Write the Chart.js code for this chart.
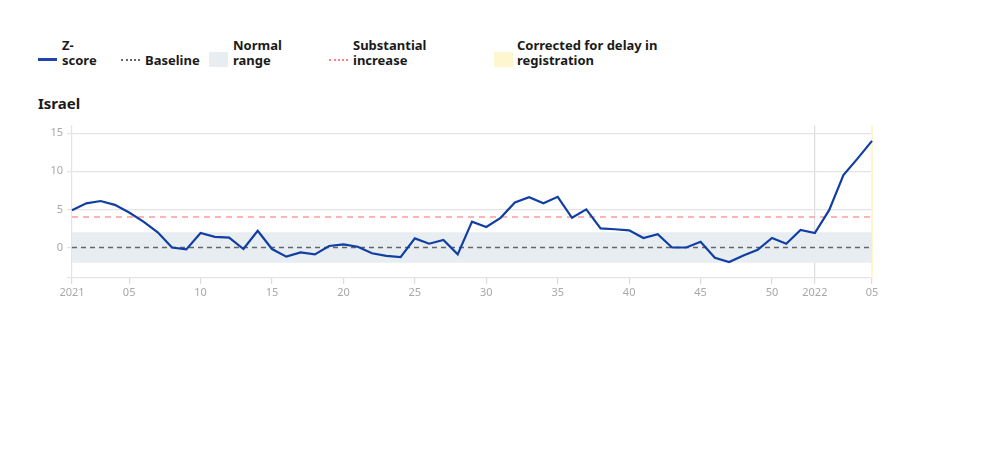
<!DOCTYPE html>
<html>
<head>
<meta charset="utf-8">
<script src="https://cdn.jsdelivr.net/npm/chart.js@4"></script>
<style>
  html, body { margin: 0; padding: 0; background: #fff; }
  body { width: 1004px; height: 456px; position: relative; overflow: hidden; font-family: "Noto Sans", sans-serif; color: #1a1a1a; }
  .lg { position: absolute; font-weight: 700; font-size: 13px; line-height: 15px; }
  .sw { position: absolute; }
  #title { position: absolute; left: 38px; top: 93px; font-weight: 700; font-size: 15px; }
  #wrap { position: absolute; left: 0; top: 115px; width: 1004px; height: 193px; }
</style>
</head>
<body>
<div class="sw" style="left:38px;top:58px;width:19px;height:0;border-top:3px solid #1f44b0;"></div>
<div class="lg" style="left:62px;top:38px;">Z-<br>score</div>
<div class="sw" style="left:121px;top:59px;width:19px;height:0;border-top:2px dotted #666;"></div>
<div class="lg" style="left:145px;top:53px;">Baseline</div>
<div class="sw" style="left:209px;top:52px;width:19px;height:15px;background:#e8edf2;"></div>
<div class="lg" style="left:233px;top:38px;">Normal<br>range</div>
<div class="sw" style="left:329px;top:59px;width:19px;height:0;border-top:2px dotted #ff8080;"></div>
<div class="lg" style="left:353px;top:38px;">Substantial<br>increase</div>
<div class="sw" style="left:494px;top:52px;width:19px;height:15px;background:#fdf6cf;"></div>
<div class="lg" style="left:517px;top:38px;">Corrected for delay in<br>registration</div>
<div id="title">Israel</div>
<div id="wrap"><canvas id="c"></canvas></div>
<script>
const categories = [
  '2021-01','2021-02','2021-03','2021-04','2021-05','2021-06','2021-07','2021-08','2021-09','2021-10',
  '2021-11','2021-12','2021-13','2021-14','2021-15','2021-16','2021-17','2021-18','2021-19','2021-20',
  '2021-21','2021-22','2021-23','2021-24','2021-25','2021-26','2021-27','2021-28','2021-29','2021-30',
  '2021-31','2021-32','2021-33','2021-34','2021-35','2021-36','2021-37','2021-38','2021-39','2021-40',
  '2021-41','2021-42','2021-43','2021-44','2021-45','2021-46','2021-47','2021-48','2021-49','2021-50',
  '2021-51','2021-52','2022-01','2022-02','2022-03','2022-04','2022-05'
];
const zScore = [
  4.9, 5.8, 6.1, 5.6, 4.6, 3.4, 2.0, 0.0, -0.25, 1.9,
  1.4, 1.3, -0.2, 2.2, -0.2, -1.2, -0.65, -0.9, 0.2, 0.4,
  0.1, -0.75, -1.1, -1.25, 1.2, 0.5, 1.0, -0.9, 3.4, 2.7,
  3.9, 5.9, 6.6, 5.8, 6.65, 3.9, 5.0, 2.5, 2.4, 2.25,
  1.25, 1.75, 0.0, 0.0, 0.75, -1.35, -1.9, -1.05, -0.3, 1.25,
  0.5, 2.3, 1.9, 4.9, 9.5, 11.7, 14.0
];
const baselineValue = 0;
const normalLow = -2;
const normalHigh = 2;
const substantialValue = 4;
const correctedFromIndex = 56;
const correctedToIndex = 56;
const yTickValues = [-4, 0, 5, 10, 15];
const yMin = -4, yMax = 16;
const xTickIndex = [0, 4, 9, 14, 19, 24, 29, 34, 39, 44, 49, 52, 56];
const xTickText = ['2021', '05', '10', '15', '20', '25', '30', '35', '40', '45', '50', '2022', '05'];
const yearStartIndex = [52];

const constArr = v => categories.map(() => v);

const correctedPlugin = {
  id: 'corrected',
  beforeDatasetsDraw(chart) {
    const {ctx, scales: {x, y}} = chart;
    const x0 = x.getPixelForValue(correctedFromIndex) - 1;
    const x1 = x.getPixelForValue(correctedToIndex) + 1;
    ctx.save();
    ctx.fillStyle = '#fdf6cf';
    ctx.fillRect(x0, y.getPixelForValue(yMax), x1 - x0, y.getPixelForValue(yMin) - y.getPixelForValue(yMax));
    ctx.restore();
  }
};

new Chart(document.getElementById('c'), {
  type: 'line',
  data: {
    labels: categories,
    datasets: [
      { label: 'low', data: constArr(normalLow), borderWidth: 0, pointRadius: 0, fill: false, order: 5 },
      { label: 'Normal range', data: constArr(normalHigh), borderWidth: 0, pointRadius: 0, fill: '-1', backgroundColor: '#e8edf2', order: 5 },
      { label: 'Baseline', data: constArr(baselineValue), borderColor: '#666666', borderWidth: 1.5, borderDash: [5, 4], pointRadius: 0, fill: false, order: 3 },
      { label: 'Substantial increase', data: constArr(substantialValue), borderColor: '#ff9c9c', borderWidth: 1.5, borderDash: [6, 5], pointRadius: 0, fill: false, order: 2 },
      { label: 'Z-score', data: zScore, borderColor: '#103ea3', borderWidth: 2.2, pointRadius: 0, fill: false, tension: 0, order: 1 }
    ]
  },
  options: {
    responsive: true,
    maintainAspectRatio: false,
    animation: false,
    layout: { padding: { top: 9, right: 132, left: 0, bottom: 0 } },
    plugins: { legend: { display: false }, tooltip: { enabled: false } },
    scales: {
      x: {
        type: 'category',
        offset: false,
        afterFit(s) { s.height = 30; },
        border: { display: false },
        grid: {
          offset: false,
          drawOnChartArea: true,
          tickLength: 6,
          color: ctx => yearStartIndex.includes(ctx.index) ? '#dddddd' : 'rgba(0,0,0,0)',
          tickColor: ctx => xTickIndex.includes(ctx.index) ? '#dddddd' : 'rgba(0,0,0,0)',
          lineWidth: 1.2
        },
        ticks: {
          autoSkip: false,
          maxRotation: 0,
          padding: 2,
          color: '#a8a8a8',
          font: { family: 'Noto Sans', size: 11 },
          callback: (v, i) => { const k = xTickIndex.indexOf(i); return k >= 0 ? xTickText[k] : ''; }
        }
      },
      y: {
        min: yMin,
        max: yMax,
        afterFit(s) { s.width = 72; },
        afterBuildTicks(s) { s.ticks = yTickValues.map(v => ({ value: v })); },
        border: { display: true, color: '#e4e4e4', width: 1.2 },
        grid: { color: '#e4e4e4', lineWidth: 1.3, tickLength: 5 },
        ticks: {
          padding: 4,
          color: '#a8a8a8',
          font: { family: 'Noto Sans', size: 11 },
          callback: v => v === yMin ? '' : String(v)
        }
      }
    }
  },
  plugins: [correctedPlugin]
});
</script>
</body>
</html>
